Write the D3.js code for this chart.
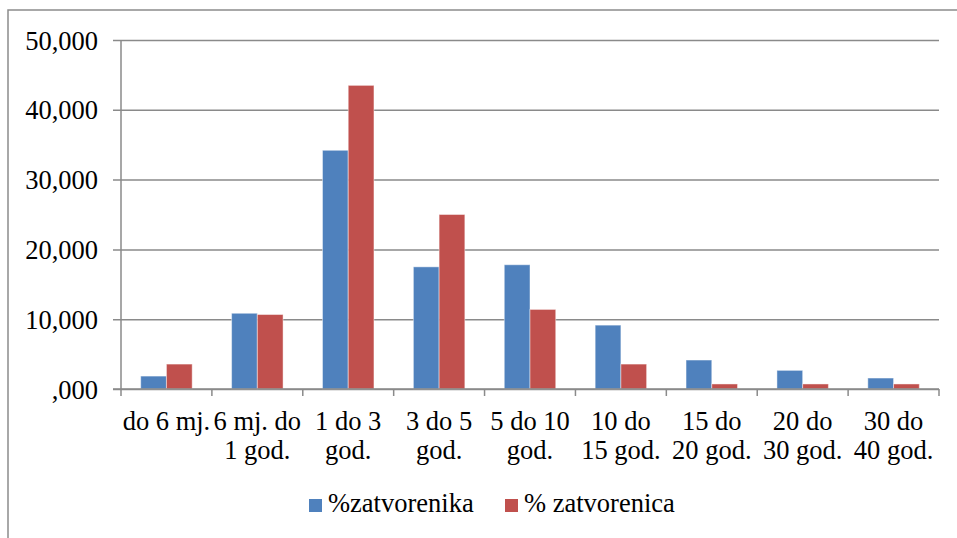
<!DOCTYPE html>
<html>
<head>
<meta charset="utf-8">
<script src="https://cdn.jsdelivr.net/npm/d3@7"></script>
<style>
  body { margin: 0; background: #fff; }
  svg { display: block; font-family: "Liberation Serif", "Times New Roman", serif; }
</style>
</head>
<body>
<svg></svg>
<script>
// data
var categories = ["do 6 mj.", "6 mj. do 1 god.", "1 do 3 god.", "3 do 5 god.", "5 do 10 god.",
                  "10 do 15 god.", "15 do 20 god.", "20 do 30 god.", "30 do 40 god."];
var labelLines = [["do 6 mj."], ["6 mj. do", "1 god."], ["1 do 3", "god."], ["3 do 5", "god."],
                  ["5 do 10", "god."], ["10 do", "15 god."], ["15 do", "20 god."],
                  ["20 do", "30 god."], ["30 do", "40 god."]];
var seriesNames = ["%zatvorenika", "% zatvorenica"];
var zatvorenika = [1.85, 10.85, 34.2, 17.5, 17.8, 9.15, 4.15, 2.67, 1.57];
var zatvorenica = [3.57, 10.67, 43.5, 25.0, 11.4, 3.57, 0.72, 0.72, 0.72];
var yTicks = [0, 10, 20, 30, 40, 50];
var yTickLabels = [",000", "10,000", "20,000", "30,000", "40,000", "50,000"];
var colors = ["#4F81BD", "#C0504D"];

var width = 957, height = 538;
var margin = {top: 40, right: 18, bottom: 149, left: 121};
var fontSize = "26.5px";

var svg = d3.select("svg").attr("width", width).attr("height", height);

// outer frame of the chart area
svg.append("rect")
   .attr("x", 8).attr("y", 10)
   .attr("width", 1000).attr("height", 600)
   .style("fill", "none")
   .style("stroke", "#8c8c8c")
   .style("stroke-width", 1.5);

var x = d3.scaleBand().domain(categories).range([margin.left, width - margin.right]);
var x1 = d3.scaleBand().domain([0, 1]).range([0, x.bandwidth()]).paddingOuter(0.766).paddingInner(0);
var y = d3.scaleLinear().domain([0, 50]).range([height - margin.bottom, margin.top]);

var gridColor = "#8a8a8a";

// horizontal gridlines + y ticks
svg.append("g")
   .attr("transform", "translate(" + margin.left + ",0)")
   .call(d3.axisLeft(y).tickValues(yTicks)
           .tickSize(-(width - margin.right - margin.left))
           .tickFormat(function(d, i) { return yTickLabels[i]; }))
   .call(function(g) {
     g.select(".domain").remove();
     g.selectAll(".tick line").attr("stroke", gridColor).attr("stroke-width", 1.5).attr("x1", -8);
     g.selectAll(".tick text").attr("x", -23).attr("dy", "0.34em")
      .style("font-family", "Liberation Serif").style("font-size", fontSize).attr("fill", "#000");
   });

// bars
var rows = categories.map(function(c, i) { return [zatvorenika[i], zatvorenica[i]]; });
svg.append("g").selectAll("g")
   .data(rows)
   .enter().append("g")
   .attr("transform", function(d, i) { return "translate(" + x(categories[i]) + ",0)"; })
   .selectAll("rect")
   .data(function(d) { return d; })
   .enter().append("rect")
   .attr("x", function(d, j) { return x1(j); })
   .attr("y", function(d) { return y(d); })
   .attr("width", x1.bandwidth())
   .attr("height", function(d) { return y(0) - y(d); })
   .attr("fill", function(d, j) { return colors[j]; })
   .attr("stroke", "rgba(255,255,255,0.45)")
   .attr("stroke-width", 1);

// y axis line
svg.append("line")
   .attr("x1", margin.left).attr("x2", margin.left)
   .attr("y1", y(50)).attr("y2", y(0))
   .attr("stroke", gridColor).attr("stroke-width", 1.5);

// x axis with ticks at category boundaries
var bounds = categories.map(function(c) { return x(c); }).concat([x.range()[1]]);
var xa = svg.append("g");
xa.append("line")
  .attr("x1", margin.left - 8).attr("x2", x.range()[1])
  .attr("y1", y(0)).attr("y2", y(0))
  .attr("stroke", gridColor).attr("stroke-width", 1.5);
xa.selectAll(".xtick")
  .data(bounds)
  .enter().append("line")
  .attr("x1", function(d) { return d; }).attr("x2", function(d) { return d; })
  .attr("y1", y(0)).attr("y2", y(0) + 7)
  .attr("stroke", gridColor).attr("stroke-width", 1.5);

// category labels (wrapped)
var lbl = svg.append("g").selectAll("text")
   .data(categories)
   .enter().append("text")
   .attr("x", function(d) { return x(d) + x.bandwidth() / 2; })
   .attr("y", 430)
   .attr("text-anchor", "middle")
   .style("font-size", fontSize)
   .attr("fill", "#000");
lbl.selectAll("tspan")
   .data(function(d, i) { return labelLines[i]; })
   .enter().append("tspan")
   .attr("x", function() { return d3.select(this.parentNode).attr("x"); })
   .attr("dy", function(d, k) { return k === 0 ? 0 : 29; })
   .text(function(d) { return d; });

// legend
var legendX = [309, 505];
var leg = svg.append("g").selectAll("g")
   .data(seriesNames)
   .enter().append("g")
   .attr("transform", function(d, i) { return "translate(" + legendX[i] + ",499)"; });
leg.append("rect")
   .attr("width", 13).attr("height", 13)
   .attr("fill", function(d, i) { return colors[i]; });
leg.append("text")
   .attr("x", 19).attr("y", 13)
   .style("font-size", fontSize)
   .attr("fill", "#000")
   .text(function(d) { return d; });
</script>
</body>
</html>
